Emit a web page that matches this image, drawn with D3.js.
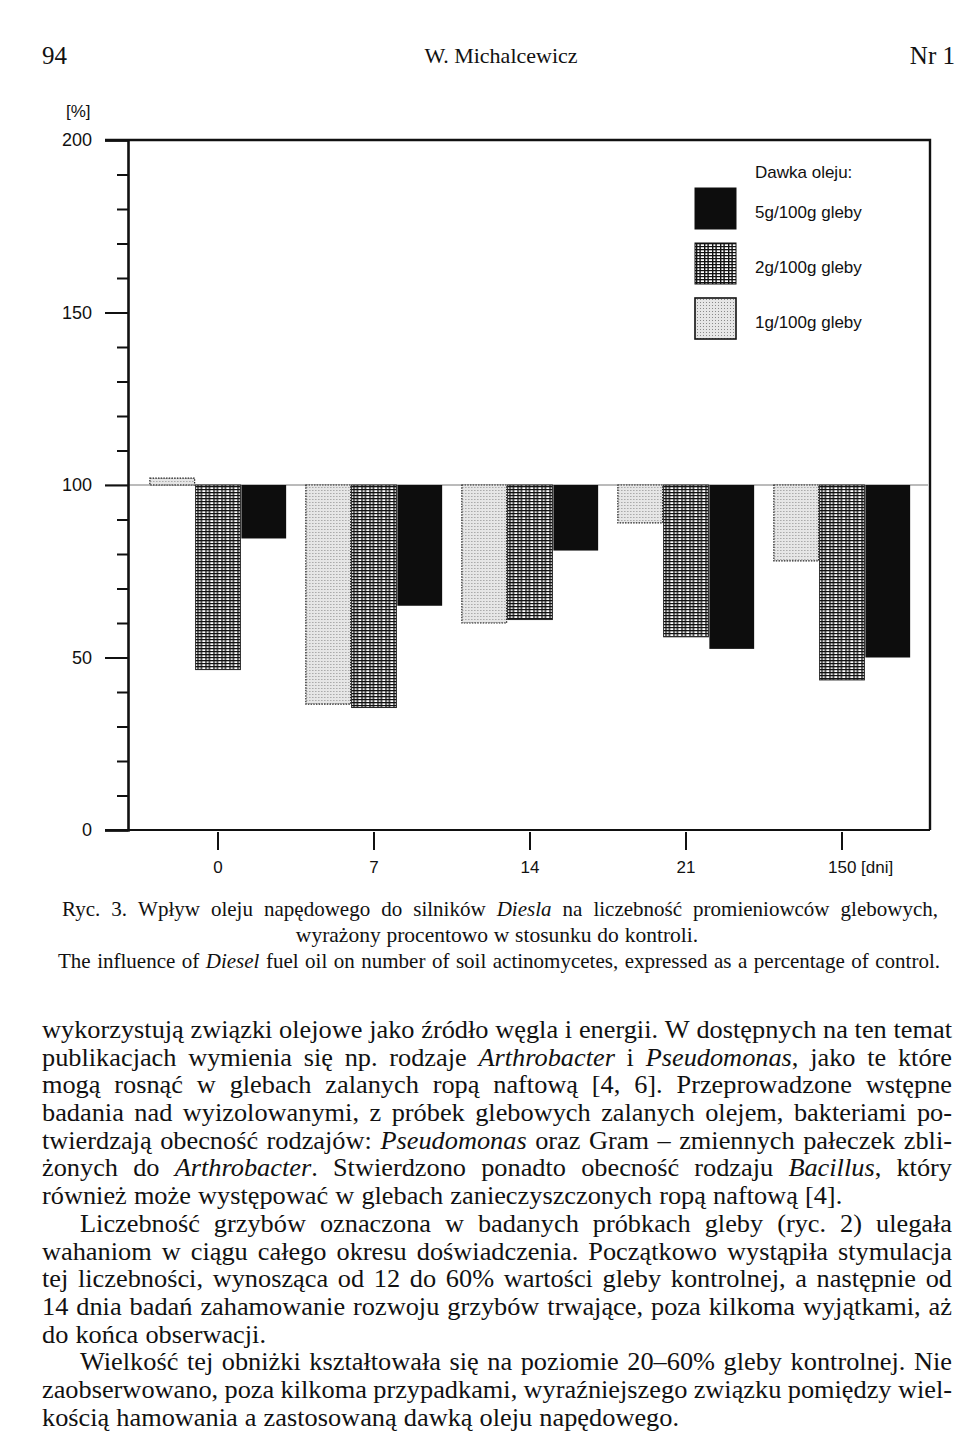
<!DOCTYPE html>
<html lang="pl">
<head>
  <meta charset="UTF-8">
  <title>Ryc. 3</title>
  <script src="https://d3js.org/d3.v7.min.js"></script>
  <style>
    body {
      margin: 0;
      padding: 0;
      background: #fff;
    }
    svg {
      display: block;
    }
    .serif {
      font-family: "Liberation Serif", "DejaVu Serif", serif;
      fill: #111;
    }
    .sans {
      font-family: "Liberation Sans", Arial, sans-serif;
      fill: #111;
    }
  </style>
</head>
<body>
  <div id="page"></div>
<script>
  // dni pomiaru i liczebność promieniowców w % kontroli
  const days = ['0', '7', '14', '21', '150']
  const doses = ['1g', '2g', '5g']
  const dose1g = [102, 36.5, 60, 89, 78]
  const dose2g = [46.5, 35.5, 61, 56, 43.5]
  const dose5g = [84.5, 65, 81, 52.5, 50]
  const yTicks = [0, 50, 100, 150, 200]
  const legendLabels = ['5g/100g gleby', '2g/100g gleby', '1g/100g gleby']

  const captionLines = [
    'Ryc. 3. Wpływ oleju napędowego do silników *Diesla* na liczebność promieniowców glebowych,',
    'wyrażony procentowo w stosunku do kontroli.',
    'The influence of *Diesel* fuel oil on number of soil actinomycetes, expressed as a percentage of control.'
  ]
  // [tekst, wcięcie, wyjustowana]
  const bodyLines = [
    ['wykorzystują związki olejowe jako źródło węgla i energii. W dostępnych na ten temat', 0, true],
    ['publikacjach wymienia się np. rodzaje *Arthrobacter* i *Pseudomonas*, jako te które', 0, true],
    ['mogą rosnąć w glebach zalanych ropą naftową [4, 6]. Przeprowadzone wstępne', 0, true],
    ['badania nad wyizolowanymi, z próbek glebowych zalanych olejem, bakteriami po-', 0, true],
    ['twierdzają obecność rodzajów: *Pseudomonas* oraz Gram – zmiennych pałeczek zbli-', 0, true],
    ['żonych do *Arthrobacter*. Stwierdzono ponadto obecność rodzaju *Bacillus*, który', 0, true],
    ['również może występować w glebach zanieczyszczonych ropą naftową [4].', 0, false],
    ['Liczebność grzybów oznaczona w badanych próbkach gleby (ryc. 2) ulegała', 38, true],
    ['wahaniom w ciągu całego okresu doświadczenia. Początkowo wystąpiła stymulacja', 0, true],
    ['tej liczebności, wynosząca od 12 do 60% wartości gleby kontrolnej, a następnie od', 0, true],
    ['14 dnia badań zahamowanie rozwoju grzybów trwające, poza kilkoma wyjątkami, aż', 0, true],
    ['do końca obserwacji.', 0, false],
    ['Wielkość tej obniżki kształtowała się na poziomie 20–60% gleby kontrolnej. Nie', 38, true],
    ['zaobserwowano, poza kilkoma przypadkami, wyraźniejszego związku pomiędzy wiel-', 0, true],
    ['kością hamowania a zastosowaną dawką oleju napędowego.', 0, false]
  ]

  const width = 960
  const height = 1446

  const svg = d3.select('#page')
    .append('svg')
    .attr('width', width)
    .attr('height', height)
    .attr('viewBox', `0 0 ${width} ${height}`)

  // wzory wypełnień
  const defs = svg.append('defs')
  const hatch = defs.append('pattern')
    .attr('id', 'hatch')
    .attr('patternUnits', 'userSpaceOnUse')
    .attr('width', 8)
    .attr('height', 6)
  hatch.append('rect').attr('width', 8).attr('height', 6).attr('fill', '#fff')
  hatch.append('rect').attr('x', 0).attr('width', 1.4).attr('height', 6).attr('fill', '#111')
  hatch.append('rect').attr('x', 3.4).attr('width', 1.4).attr('height', 6).attr('fill', '#111')
  hatch.append('rect').attr('y', 0).attr('width', 8).attr('height', 1.3).attr('fill', '#111')
  hatch.append('rect').attr('y', 3).attr('width', 8).attr('height', 1.2).attr('fill', '#111')

  const dots = defs.append('pattern')
    .attr('id', 'dots')
    .attr('patternUnits', 'userSpaceOnUse')
    .attr('width', 3)
    .attr('height', 3)
  dots.append('rect').attr('width', 3).attr('height', 3).attr('fill', '#e6e6e6')
  dots.append('rect').attr('x', 1).attr('y', 1).attr('width', 1).attr('height', 1).attr('fill', '#8a8a8a')

  const fills = { '1g': 'url(#dots)', '2g': 'url(#hatch)', '5g': '#0d0d0d' }
  const values = { '1g': dose1g, '2g': dose2g, '5g': dose5g }

  // nagłówek strony
  svg.append('text').attr('class', 'serif').attr('x', 42).attr('y', 64)
    .style('font-size', '25px').text('94')
  svg.append('text').attr('class', 'serif').attr('x', 501).attr('y', 63)
    .attr('text-anchor', 'middle').style('font-size', '22px').text('W. Michalcewicz')
  svg.append('text').attr('class', 'serif').attr('x', 955).attr('y', 64)
    .attr('text-anchor', 'end').style('font-size', '25px').text('Nr 1')

  // wykres
  const y = d3.scaleLinear().domain([0, 200]).range([830, 140])
  const x = d3.scaleBand().domain(days).range([140, 920]).paddingInner(0.12).paddingOuter(0.06)
  const xDose = d3.scaleBand().domain(doses).range([0, x.bandwidth()])

  const chart = svg.append('g')

  // linia 100%
  chart.append('line')
    .attr('x1', 105).attr('x2', 928)
    .attr('y1', y(100)).attr('y2', y(100))
    .attr('stroke', '#777').attr('stroke-width', 1)

  const groups = chart.selectAll('g.day')
    .data(days)
    .join('g')
    .attr('class', 'day')
    .attr('transform', d => `translate(${x(d)},0)`)

  groups.selectAll('rect')
    .data((d, i) => doses.map(k => ({ dose: k, v: values[k][i] })))
    .join('rect')
    .attr('x', d => xDose(d.dose) + 0.5)
    .attr('width', xDose.bandwidth() - 1)
    .attr('y', d => y(Math.max(d.v, 100)))
    .attr('height', d => Math.abs(y(d.v) - y(100)))
    .attr('fill', d => fills[d.dose])
    .attr('stroke', d => d.dose === '5g' ? 'none' : '#222')
    .attr('stroke-width', d => d.dose === '1g' ? 1.2 : 1)
    .attr('stroke-dasharray', d => d.dose === '1g' ? '1.5,1.2' : null)

  // oś Y
  const yAxis = chart.append('g')
    .attr('transform', 'translate(128,0)')
    .call(d3.axisLeft(y).tickValues(yTicks).tickSize(23).tickPadding(13))
  yAxis.select('.domain').attr('stroke-width', 2.6).attr('stroke', '#111')
  yAxis.selectAll('.tick line').attr('stroke-width', 2).attr('stroke', '#111')
  yAxis.selectAll('.tick text')
    .attr('class', 'sans')
    .style('font-size', '18px')
    .attr('font-family', null)

  const yMinor = chart.append('g')
    .attr('transform', 'translate(128,0)')
    .call(d3.axisLeft(y).tickValues(d3.range(10, 200, 10).filter(v => v % 50)).tickSize(11).tickFormat(''))
  yMinor.select('.domain').remove()
  yMinor.selectAll('.tick line').attr('stroke-width', 2).attr('stroke', '#111')

  chart.append('text').attr('class', 'sans')
    .attr('x', 66).attr('y', 117)
    .style('font-size', '17px').text('[%]')

  // ramka
  chart.append('path')
    .attr('d', `M105,${y(200)}H930V${y(0)}`)
    .attr('fill', 'none').attr('stroke', '#111').attr('stroke-width', 2.4)
  chart.append('line')
    .attr('x1', 105).attr('x2', 930)
    .attr('y1', y(0)).attr('y2', y(0))
    .attr('stroke', '#111').attr('stroke-width', 2)

  // oś X
  const xAxis = chart.append('g')
    .attr('transform', `translate(0,${y(0) + 2})`)
    .call(d3.axisBottom(x).tickSize(18).tickPadding(11))
  xAxis.select('.domain').remove()
  xAxis.selectAll('.tick line').attr('stroke-width', 2).attr('stroke', '#111')
  xAxis.selectAll('.tick text')
    .attr('class', 'sans')
    .attr('font-family', null)
    .style('font-size', '17px')
  xAxis.selectAll('.tick text')
    .filter(d => d === '150')
    .attr('text-anchor', 'start')
    .attr('x', -14)
    .text('150 [dni]')

  // legenda
  const legend = chart.append('g')
  legend.append('text').attr('class', 'sans')
    .attr('x', 755).attr('y', 178)
    .style('font-size', '17px').text('Dawka oleju:')
  const legendDoses = ['5g', '2g', '1g']
  const legendRows = legend.selectAll('g.row')
    .data(legendDoses)
    .join('g')
    .attr('class', 'row')
    .attr('transform', (d, i) => `translate(0,${188 + i * 55})`)
  legendRows.append('rect')
    .attr('x', 695).attr('y', 0)
    .attr('width', 41).attr('height', 41)
    .attr('fill', d => fills[d])
    .attr('stroke', '#111')
    .attr('stroke-width', d => d === '1g' ? 1.6 : 1)
  legendRows.append('text').attr('class', 'sans')
    .attr('x', 755).attr('y', 30)
    .style('font-size', '17px')
    .text((d, i) => legendLabels[i])

  // tekst z kursywą i justowaniem
  function pieces(word) {
    const out = []
    word.split(/(\*[^*]+\*)/).filter(s => s.length).forEach(s => {
      if (s.startsWith('*')) out.push({ t: s.slice(1, -1), it: true })
      else out.push({ t: s, it: false })
    })
    return out
  }

  // sx - rozciągnięcie poziome kroju
  function drawLine(str, x0, x1, yy, size, justify, anchor, sx = 1) {
    const words = str.split(' ')
    const t = svg.append('text').attr('class', 'serif')
      .attr('y', yy)
      .attr('transform', sx !== 1 ? `scale(${sx},1)` : null)
      .style('font-size', size + 'px')
    const spans = words.map(w => {
      const first = t.append('tspan')
      pieces(w).forEach((p, j) => {
        const s = j === 0 ? first : t.append('tspan')
        s.text(p.t).style('font-style', p.it ? 'italic' : null)
      })
      return first
    })
    // szerokości słów (w jednostkach przed skalowaniem)
    const tNode = t.node()
    let pos = 0
    const widths = words.map(w => {
      const len = w.replace(/\*/g, '').length
      const wd = tNode.getSubStringLength(pos, len)
      pos += len
      return wd
    })
    const a = x0 / sx
    const b = x1 / sx
    const total = d3.sum(widths)
    let gap = size * 0.27
    if (justify && words.length > 1) gap = (b - a - total) / (words.length - 1)
    let start = a
    if (anchor === 'middle') start = (a + b) / 2 - (total + gap * (words.length - 1)) / 2
    let cx = start
    spans.forEach((s, i) => {
      s.attr('x', cx)
      cx += widths[i] + gap
    })
  }

  // podpis ryciny
  drawLine(captionLines[0], 62, 938, 916, 21, true)
  drawLine(captionLines[1], 62, 932, 942, 21.5, false, 'middle')
  drawLine(captionLines[2], 58, 940, 968, 21, true)

  // tekst główny
  bodyLines.forEach((l, i) => {
    drawLine(l[0], 42 + l[1], 952, 1038 + i * 27.7, 24.5, l[2], null, 1.075)
  })
</script>
</body>
</html>
